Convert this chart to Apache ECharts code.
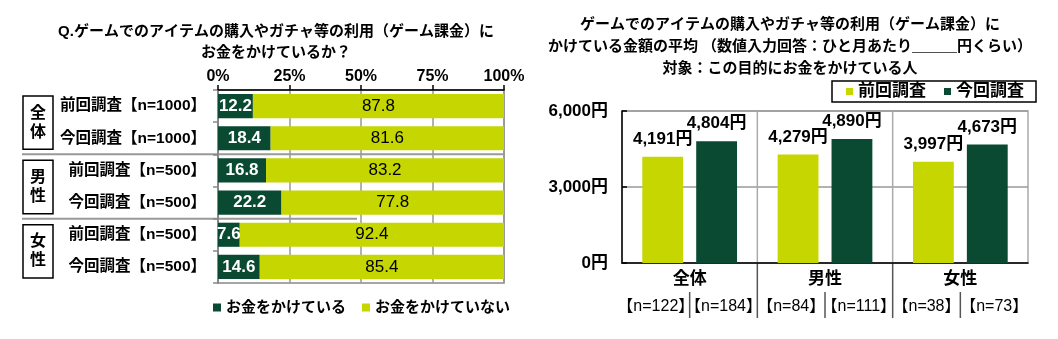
<!DOCTYPE html>
<html>
<head>
<meta charset="utf-8">
<script src="https://cdn.jsdelivr.net/npm/echarts@6/dist/echarts.min.js"></script>
<style>
  html, body { margin: 0; padding: 0; background: #fff; }
  #chart { width: 1058px; height: 339px; }
</style>
</head>
<body>
<div id="chart"></div>
<script>
// Share of respondents spending money on in-game items (left panel)
const rowLabels = ['前回調査【n=1000】', '今回調査【n=1000】', '前回調査【n=500】', '今回調査【n=500】', '前回調査【n=500】', '今回調査【n=500】'];
const rowGroups = ['全体', '男性', '女性'];
const spending = [12.2, 18.4, 16.8, 22.2, 7.6, 14.6];
const notSpending = [87.8, 81.6, 83.2, 77.8, 92.4, 85.4];

// Average monthly spend among payers (right panel)
const groups = ['全体', '男性', '女性'];
const avgPrev = [4191, 4279, 3997];
const avgCurr = [4804, 4890, 4673];
const sampleLabels = ['【n=122】', '【n=184】', '【n=84】', '【n=111】', '【n=38】', '【n=73】'];

const DARK = '#0a4a33';
const LIGHT = '#c5d600';
const FONT = "'Liberation Sans','Noto Sans CJK JP',sans-serif";
const yen = v => Number(v).toLocaleString('en-US') + '円';

const chart = echarts.init(document.getElementById('chart'), null, { renderer: 'canvas' });

const titleText = (x, y, text) => ({
  type: 'text', x, y, silent: true,
  style: { text, textAlign: 'center', textVerticalAlign: 'middle', font: 'bold 15px ' + FONT, fill: '#000' }
});

const option = {
  animation: false,
  textStyle: { fontFamily: FONT },
  grid: [
    { left: 218, right: 554, top: 90, height: 193, show: true, borderColor: '#888', borderWidth: 1.5 },
    { left: 622, right: 30, top: 111, bottom: 76, show: true, borderColor: '#aaa', borderWidth: 1.5 }
  ],
  legend: [
    {
      data: ['お金をかけている', 'お金をかけていない'],
      left: 208, top: 295, itemWidth: 8, itemHeight: 8, itemGap: 16, icon: 'rect',
      textStyle: { fontSize: 15, fontWeight: 'bold', color: '#000', fontFamily: FONT }
    },
    {
      data: ['前回調査', '今回調査'],
      left: 832, top: 81, itemWidth: 7, itemHeight: 7, itemGap: 18, icon: 'rect',
      borderColor: '#000', borderWidth: 1.5, padding: [2, 12, 2, 14],
      textStyle: { fontSize: 17, fontWeight: 'bold', color: '#000', fontFamily: FONT }
    }
  ],
  xAxis: [
    {
      gridIndex: 0, type: 'value', position: 'top', min: 0, max: 100, interval: 25,
      axisLine: { show: true, lineStyle: { color: '#000', width: 1.5 } },
      axisTick: { show: true, length: 5, lineStyle: { color: '#000', width: 1.5 } },
      axisLabel: { formatter: '{value}%', fontSize: 16, fontWeight: 'bold', color: '#000', margin: 5 },
      splitLine: { show: true, lineStyle: { color: '#999', width: 1.5 } }
    },
    {
      gridIndex: 1, type: 'category', data: groups,
      axisLine: { show: true, lineStyle: { color: '#000', width: 1.5 } },
      axisTick: { show: false },
      axisLabel: { fontSize: 17, fontWeight: 'bold', color: '#000', margin: 8 }
    },
    {
      gridIndex: 1, type: 'category', data: sampleLabels, position: 'bottom',
      axisLine: { show: false }, axisTick: { show: false },
      axisLabel: { fontSize: 16, color: '#000', margin: 36, interval: 0 }
    }
  ],
  yAxis: [
    {
      gridIndex: 0, type: 'category', data: rowLabels, inverse: true,
      axisLine: { show: true, lineStyle: { color: '#888', width: 2 } },
      axisTick: { show: true, length: 5, lineStyle: { color: '#888', width: 1.5 } },
      axisLabel: { fontSize: 15.5, fontWeight: 'bold', color: '#000', margin: 12 }
    },
    {
      gridIndex: 1, type: 'value', min: 0, max: 6000, interval: 3000,
      axisLine: { show: true, lineStyle: { color: '#000', width: 1.5 } },
      axisTick: { show: true, inside: true, length: 5, lineStyle: { color: '#000', width: 1.5 } },
      axisLabel: { formatter: yen, fontSize: 17, fontWeight: 'bold', color: '#000', margin: 14 },
      splitLine: { show: true, lineStyle: { color: '#999', width: 1.5 } }
    }
  ],
  series: [
    {
      name: 'お金をかけている', type: 'bar', stack: 'share', xAxisIndex: 0, yAxisIndex: 0,
      data: spending, barCategoryGap: '25%', itemStyle: { color: DARK },
      label: { show: true, position: 'inside', color: '#fff', fontSize: 17, fontWeight: 'bold' }
    },
    {
      name: 'お金をかけていない', type: 'bar', stack: 'share', xAxisIndex: 0, yAxisIndex: 0,
      data: notSpending, barCategoryGap: '25%', itemStyle: { color: LIGHT },
      label: { show: true, position: 'inside', color: '#000', fontSize: 17 }
    },
    {
      name: '前回調査', type: 'bar', xAxisIndex: 1, yAxisIndex: 1,
      data: avgPrev, barGap: '32%', barCategoryGap: '30%', itemStyle: { color: LIGHT },
      label: { show: true, position: 'top', distance: 9, formatter: p => yen(p.value), fontSize: 17, fontWeight: 'bold', color: '#000' }
    },
    {
      name: '今回調査', type: 'bar', xAxisIndex: 1, yAxisIndex: 1,
      data: avgCurr, barGap: '32%', barCategoryGap: '30%', itemStyle: { color: DARK },
      label: { show: true, position: 'top', distance: 9, formatter: p => yen(p.value), fontSize: 17, fontWeight: 'bold', color: '#000' }
    }
  ]
};

chart.setOption(option);

// Decorations placed from the axes' own pixel mapping
const g = [];
g.push(titleText(276, 32, 'Q.ゲームでのアイテムの購入やガチャ等の利用（ゲーム課金）に'));
g.push(titleText(276, 53, 'お金をかけているか？'));
g.push(titleText(790, 25, 'ゲームでのアイテムの購入やガチャ等の利用（ゲーム課金）に'));
g.push(titleText(790, 47, 'かけている金額の平均 （数値入力回答：ひと月あたり＿＿＿円くらい）'));
g.push(titleText(790, 69, '対象：この目的にお金をかけている人'));

// Left panel: row-group boxes and separators (rows addressed by index)
const rowY = i => chart.convertToPixel({ yAxisIndex: 0 }, i);
const rowStep = rowY(1) - rowY(0);
const xRight = chart.convertToPixel({ xAxisIndex: 0 }, 100);
const xMid = chart.convertToPixel({ xAxisIndex: 0 }, 50);
rowGroups.forEach((name, k) => {
  const y0 = rowY(2 * k) - rowStep / 2 + 6;
  const y1 = rowY(2 * k + 1) + rowStep / 2 - 5;
  g.push({ type: 'rect', silent: true, shape: { x: 23, y: y0, width: 30, height: y1 - y0 },
    style: { fill: '#fff', stroke: '#000', lineWidth: 1.5 } });
  g.push({ type: 'text', silent: true, x: 38, y: (y0 + y1) / 2,
    style: { text: name[0] + '\n' + name[1], textAlign: 'center', textVerticalAlign: 'middle',
      font: 'bold 16px ' + FONT, lineHeight: 19, fill: '#000' } });
});
[[1, xRight], [3, xMid - 4]].forEach(([i, xEnd]) => {
  const y = rowY(i) + rowStep / 2;
  g.push({ type: 'line', silent: true, shape: { x1: 22, y1: y, x2: xEnd, y2: y },
    style: { stroke: '#999', lineWidth: 2 } });
});

// Right panel: separators below the category axis
const subX = i => chart.convertToPixel({ xAxisIndex: 2 }, i);
const yZero = chart.convertToPixel({ yAxisIndex: 1 }, 0);
const yTop = chart.convertToPixel({ yAxisIndex: 1 }, 6000);
for (let i = 0; i < sampleLabels.length - 1; i++) {
  const x = (subX(i) + subX(i + 1)) / 2;
  const major = i % 2 === 1;
  g.push({ type: 'line', silent: true,
    shape: { x1: x, y1: major ? yZero : yZero + 29, x2: x, y2: yZero + 55 },
    style: { stroke: '#555', lineWidth: 1.5 } });
  if (major) {
    g.push({ type: 'line', silent: true, shape: { x1: x, y1: yTop, x2: x, y2: yZero },
      style: { stroke: '#aaa', lineWidth: 1.5 } });
  }
}

chart.setOption({ graphic: g });
</script>
</body>
</html>
